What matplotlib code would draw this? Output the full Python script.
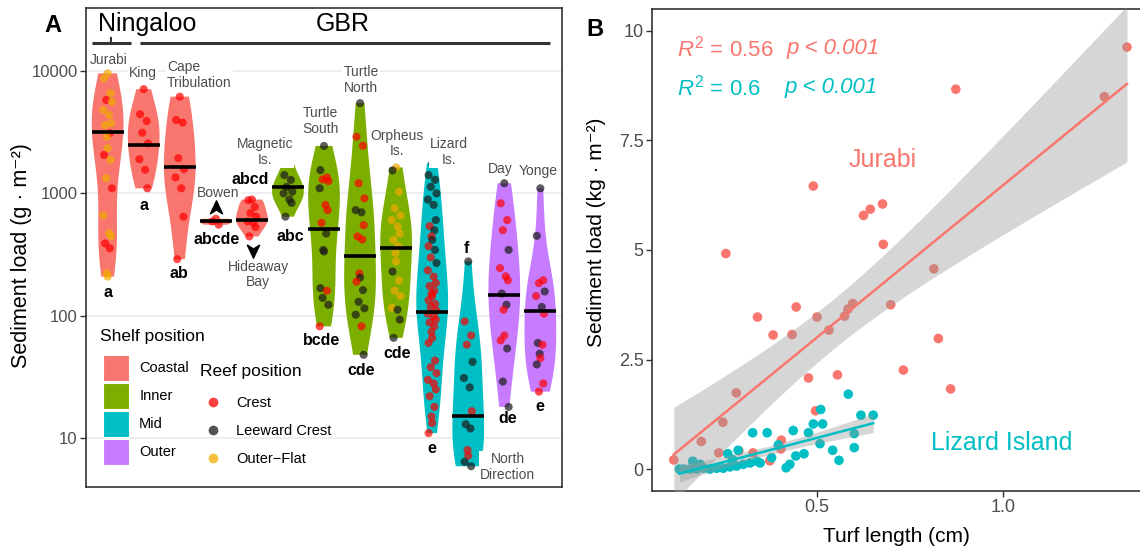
import numpy as np
import matplotlib
matplotlib.use("Agg")
import matplotlib.pyplot as plt
from matplotlib import cbook, mlab
from matplotlib.path import Path
from matplotlib.patches import Patch
from matplotlib.lines import Line2D
from matplotlib.ticker import FixedLocator, NullLocator, FixedFormatter

plt.rcParams['font.family'] = ['Liberation Sans', 'DejaVu Sans']
plt.rcParams['mathtext.fontset'] = 'custom'
plt.rcParams['mathtext.rm'] = 'Liberation Sans'
plt.rcParams['mathtext.it'] = 'Liberation Sans:italic'

# ---------------- panel A data ----------------
sites = ["Jurabi", "King", "Cape\nTribulation", "Bowen", "Hideaway\nBay", "Magnetic\nIs.",
         "Turtle\nSouth", "Turtle\nNorth", "Orpheus\nIs.", "Lizard\nIs.", "North\nDirection",
         "Day", "Yonge"]
shelf = ["Coastal"] * 5 + ["Inner"] * 4 + ["Mid"] * 2 + ["Outer"] * 2
letters = ["a", "a", "ab", "abcde", "abcd", "abc", "bcde", "cde", "cde", "e", "f", "de", "e"]
medians = [3150, 2490, 1630, 590, 605, 1130, 515, 308, 360, 107, 15.3, 148, 109]

# sediment load (g m-2) per site, reef position code: C crest, L leeward crest, O outer-flat
jurabi_load = [9570, 8700, 6580, 5790, 5610, 4800, 4370, 3740, 3620, 3100, 2900, 2340,
               2060, 1880, 1330, 1100, 660, 470, 445, 390, 356, 222, 209]
jurabi_reef = "OOOCOOOOOCOOCOOCOOOCCOO"
king_load = [7100, 4430, 3900, 3130, 2560, 1900, 1560, 1100]
king_reef = "CCCCCCCC"
cape_load = [6170, 3980, 3790, 1940, 1580, 1350, 1100, 645, 290]
cape_reef = "CCCCCCCCC"
bowen_load = [620, 590, 555]
bowen_reef = "CCC"
hideaway_load = [890, 880, 775, 690, 645, 590, 575, 530, 445]
hideaway_reef = "CCCCCCCCC"
magnetic_load = [1900, 1410, 1290, 1130, 1030, 1000, 890, 835, 645]
magnetic_reef = "LLLLLLLLL"
tsouth_load = [2440, 1550, 1350, 1300, 1260, 1100, 805, 730, 575, 470, 345, 335, 168,
               160, 140, 123, 82]
tsouth_reef = "LLCCCLCCCLLLLCLLC"
tnorth_load = [5460, 2900, 2450, 1210, 910, 730, 700, 550, 445, 420, 222, 205, 190, 162,
               130, 115, 102, 82, 48]
tnorth_reef = "LCCCCLLCCCCLCLLLLCL"
orpheus_load = [1630, 1540, 1030, 755, 660, 605, 535, 470, 417, 370, 325, 278, 230, 195,
                160, 145, 116, 112, 93, 66]
orpheus_reef = "OLOOOOOOOOOOLOOOOLLL"
lizard_load = [1760, 1410, 1290, 1130, 1000, 890, 805, 605, 540, 500, 445, 417, 370, 345,
               300, 270, 235, 209, 185, 175, 160, 152, 145, 134, 125, 118, 110, 104, 98,
               93, 88, 82, 74, 66, 60, 43, 38, 34, 30, 28, 25, 22, 18, 15, 13.3, 11]
lizard_reef = "LLLLLLLLCLCLCLCL" + "C" * 30
ndir_load = [278, 90, 69, 58, 42, 31, 26, 16.6, 13, 12, 8, 7.2, 6.4, 5.9]
ndir_reef = "LCCCLLLCLLCCLL"
day_load = [1210, 830, 605, 500, 345, 245, 210, 195, 152, 123, 112, 69, 63, 54, 29, 18]
day_reef = "LCCCLCCCLLCCCLLL"
yonge_load = [1100, 450, 195, 185, 158, 145, 118, 104, 60, 58, 49, 45, 40, 28, 24]
yonge_reef = "LLCCLCLCLCLCLCC"

site_loads = [jurabi_load, king_load, cape_load, bowen_load, hideaway_load, magnetic_load,
              tsouth_load, tnorth_load, orpheus_load, lizard_load, ndir_load, day_load,
              yonge_load]
site_reefs = [jurabi_reef, king_reef, cape_reef, bowen_reef, hideaway_reef, magnetic_reef,
              tsouth_reef, tnorth_reef, orpheus_reef, lizard_reef, ndir_reef, day_reef,
              yonge_reef]

# ---------------- panel B data ----------------
jur_turf = [1.333, 1.272, 0.873, 0.490, 0.676, 0.643, 0.625, 0.678, 0.255, 0.814, 0.444,
            0.340, 0.500, 0.574, 0.583, 0.596, 0.698, 0.532, 0.382, 0.433, 0.826, 0.732,
            0.555, 0.477, 0.859, 0.283, 0.496, 0.247, 0.189, 0.404, 0.236, 0.290, 0.328,
            0.403, 0.373, 0.115]
jur_sed = [9.63, 8.50, 8.67, 6.46, 6.05, 5.93, 5.79, 5.13, 4.92, 4.57, 3.70, 3.47, 3.47,
           3.49, 3.65, 3.78, 3.75, 3.17, 3.06, 3.07, 2.98, 2.26, 2.15, 2.08, 1.83, 1.74,
           1.33, 1.07, 0.63, 0.66, 0.37, 0.42, 0.37, 0.46, 0.19, 0.21]
liz_turf = [0.584, 0.510, 0.618, 0.651, 0.490, 0.515, 0.477, 0.436, 0.327, 0.366, 0.600,
            0.508, 0.600, 0.396, 0.288, 0.260, 0.542, 0.465, 0.443, 0.378, 0.559, 0.427,
            0.417, 0.338, 0.320, 0.302, 0.284, 0.266, 0.248, 0.230, 0.212, 0.195, 0.177,
            0.166, 0.159, 0.141, 0.130, 0.186, 0.347, 0.273]
liz_sed = [1.71, 1.36, 1.23, 1.23, 1.03, 1.03, 0.83, 0.88, 0.83, 0.83, 0.81, 0.58, 0.49,
           0.55, 0.43, 0.35, 0.43, 0.35, 0.30, 0.26, 0.20, 0.11, 0.03, 0.18, 0.14, 0.11,
           0.07, 0.05, 0.02, 0.02, 0.00, 0.02, 0.00, 0.18, 0.00, 0.00, 0.00, 0.11, 0.14,
           0.22]

shelf_colors = {"Coastal": "#F8766D", "Inner": "#7CAE00", "Mid": "#00BFC4", "Outer": "#C77CFF"}
reef_colors = {"C": "#FF0000", "L": "#1A1A1A", "O": "#F2AA00"}
reef_names = {"C": "Crest", "L": "Leeward Crest", "O": "Outer\u2212Flat"}
jitter = [0.0, -0.1, 0.08, -0.04, 0.12, -0.12, 0.04, 0.1, -0.07, 0.06, -0.02]
grey_txt = "#4D4D4D"

fig = plt.figure(figsize=(11.4, 5.49), dpi=100)
W, H = 1140, 549
axA = fig.add_axes([86 / W, (H - 487) / H, 476 / W, 479 / H])
axB = fig.add_axes([652 / W, (H - 491) / H, 488 / W, 482 / H])

# ---------------- panel A ----------------
axA.set_yscale("log")
axA.set_ylim(3.99, 32700)
axA.set_xlim(0.4, 13.6)
pos = np.arange(1, len(sites) + 1)


def kde(x, coords):
    return mlab.GaussianKDE(x, "scott").evaluate(coords)


stats = cbook.violin_stats([np.log10(v) for v in site_loads], kde, points=200)
for st in stats:
    for k in ("coords", "mean", "median", "min", "max"):
        st[k] = 10 ** np.asarray(st[k])
parts = axA.violin(stats, positions=pos, widths=0.88, showextrema=False)
for body, sh in zip(parts["bodies"], shelf):
    body.set_facecolor(shelf_colors[sh])
    body.set_edgecolor("none")
    body.set_alpha(1)
    body.set_zorder(2)

for p, vals, reefs in zip(pos, site_loads, site_reefs):
    xs = [p + jitter[i % len(jitter)] for i in range(len(vals))]
    cols = [reef_colors[r] for r in reefs]
    axA.scatter(xs, vals, s=34, c=cols, alpha=0.7, edgecolors="none", zorder=3)

axA.hlines(medians, pos - 0.44, pos + 0.44, colors="black", lw=2.6, zorder=4)

axA.yaxis.set_major_locator(FixedLocator([10, 100, 1000, 10000]))
axA.yaxis.set_minor_locator(NullLocator())
axA.yaxis.set_major_formatter(FixedFormatter(["10", "100", "1000", "10000"]))
axA.set_xticks([])
axA.yaxis.grid(True, color="#EBEBEB", lw=1.2)
axA.set_axisbelow(True)
axA.tick_params(axis="y", labelsize=12, labelcolor=grey_txt, color="#333333", length=4,
                width=1, pad=2)
for sp in axA.spines.values():
    sp.set_color("#333333")
    sp.set_linewidth(1.2)
axA.set_ylabel("Sediment load (g \u00b7 m\u207b\u00b2)", fontsize=15.5, va="center")
axA.yaxis.set_label_coords((22 - 86) / 476, 0.484)

# site labels
lab_x = [1.04, 1.98, 2.65, 4.06, 5.17, 5.36, 6.89, 8.03, 9.02, 10.47, 12.10, 11.88, 12.93]
lab_y = [12300, 9690, 9270, 1000, 217, 2180, 3900, 8440, 2560, 2180, 5.82, 1580, 1525]
for i, (name, x, y) in enumerate(zip(sites, lab_x, lab_y)):
    axA.text(x, y, name, ha="left" if i == 2 else "center", va="center", fontsize=10,
             color=grey_txt, linespacing=1.15, zorder=5,
             bbox=dict(facecolor="white", edgecolor="none", pad=1))

let_x = [1.0, 2.0, 2.98, 4.03, 4.95, 6.06, 6.94, 8.02, 9.02, 9.99, 10.94, 12.10, 12.99]
let_y = [155, 800, 222, 422, 1300, 448, 63, 36, 49, 8.3, 356, 14.5, 18]
for t, x, y in zip(letters, let_x, let_y):
    axA.text(x, y, t, ha="center", va="center", fontsize=11.5, fontweight="bold", zorder=5)

up = Path([(0, 1), (0.8, -0.7), (0, -0.2), (-0.8, -0.7), (0, 1)],
          [Path.MOVETO, Path.LINETO, Path.LINETO, Path.LINETO, Path.CLOSEPOLY])
down = Path([(0, -1), (0.8, 0.7), (0, 0.2), (-0.8, 0.7), (0, -1)],
            [Path.MOVETO, Path.LINETO, Path.LINETO, Path.LINETO, Path.CLOSEPOLY])
axA.plot([4.0], [760], marker=up, ms=11, color="black", ls="none", zorder=5)
axA.plot([5.03], [345], marker=down, ms=11, color="black", ls="none", zorder=5)

# region brackets
axA.plot([0.57, 1.65], [16900, 16900], color="#333333", lw=2.2, solid_capstyle="butt")
axA.plot([1.1, 1.1], [16900, 18700], color="#333333", lw=1.5)
axA.plot([1.90, 13.27], [16900, 16900], color="#333333", lw=2.2, solid_capstyle="butt")
axA.text(2.09, 24200, "Ningaloo", ha="center", va="center", fontsize=18)
axA.text(7.53, 24200, "GBR", ha="center", va="center", fontsize=18)

# legends (titles drawn as separate text for exact spacing)
shelf_handles = [Patch(facecolor=shelf_colors[k], edgecolor="white", lw=0.8, label=k)
                 for k in shelf_colors]
leg1 = axA.legend(handles=shelf_handles, loc="upper left",
                  bbox_to_anchor=(0.0357, 0.2756), frameon=False, fontsize=10.5,
                  handlelength=1.78, handleheight=2.36, labelspacing=0.14,
                  handletextpad=0.7, borderpad=0, borderaxespad=0)
axA.add_artist(leg1)
axA.text(0.0294, 0.315, "Shelf position", transform=axA.transAxes, fontsize=12.5,
         ha="left", va="center")
reef_handles = [Line2D([], [], marker="o", ls="none", ms=7, markerfacecolor=reef_colors[k],
                       markeredgecolor="none", alpha=0.75, label=reef_names[k])
                for k in reef_colors]
axA.legend(handles=reef_handles, loc="upper left",
           bbox_to_anchor=(0.2395, 0.19), frameon=False, fontsize=10.5,
           handlelength=1.78, labelspacing=0.965, handletextpad=0.7, borderpad=0,
           borderaxespad=0)
axA.text(0.2395, 0.242, "Reef position", transform=axA.transAxes, fontsize=12.5,
         ha="left", va="center")

# ---------------- panel B ----------------
axB.set_xlim(0.0565, 1.368)
axB.set_ylim(-0.5, 10.5)


def fit_band(x, y):
    x = np.asarray(x)
    y = np.asarray(y)
    b, a = np.polyfit(x, y, 1)
    n = len(x)
    s = np.sqrt(np.sum((y - (a + b * x)) ** 2) / (n - 2))
    xs = np.linspace(x.min(), x.max(), 100)
    se = s * np.sqrt(1 / n + (xs - x.mean()) ** 2 / np.sum((x - x.mean()) ** 2))
    yh = a + b * xs
    return xs, yh, yh - 2.03 * se, yh + 2.03 * se


axB.scatter(jur_turf, jur_sed, s=48, color="#F8766D", edgecolors="none", zorder=2)
axB.scatter(liz_turf, liz_sed, s=48, color="#00BFC4", edgecolors="none", zorder=2)
for xv, yv, col in ((jur_turf, jur_sed, "#F8766D"), (liz_turf, liz_sed, "#00BFC4")):
    xs, yh, lo, hi = fit_band(xv, yv)
    axB.fill_between(xs, lo, hi, color="#999999", alpha=0.4, lw=0, zorder=3)
    axB.plot(xs, yh, color=col, lw=1.8, zorder=4)

axB.set_xticks([0.5, 1.0], ["0.5", "1.0"])
axB.set_yticks([0, 2.5, 5, 7.5, 10], ["0", "2.5", "5", "7.5", "10"])
axB.tick_params(labelsize=13, labelcolor=grey_txt, color="#333333", length=4, width=1, pad=2)
for k, sp in axB.spines.items():
    sp.set_color("#333333")
    sp.set_linewidth(1.2)
axB.spines["right"].set_visible(False)
axB.set_ylabel("Sediment load (kg \u00b7 m\u207b\u00b2)", fontsize=15, va="center")
axB.yaxis.set_label_coords((596 - 652) / 488, 0.537)
axB.set_xlabel("Turf length (cm)", fontsize=15, va="center")
axB.xaxis.set_label_coords(0.5, (491 - 537) / 482)

axB.text(0.124, 9.6, r"$R^2$ = 0.56", color="#F8766D", fontsize=16, va="center")
axB.text(0.419, 9.6, "p < 0.001", color="#F8766D", fontsize=16, va="center", style="italic")
axB.text(0.124, 8.71, r"$R^2$ = 0.6", color="#00BFC4", fontsize=16, va="center")
axB.text(0.413, 8.71, "p < 0.001", color="#00BFC4", fontsize=16, va="center", style="italic")
axB.text(0.675, 7.05, "Jurabi", color="#F8766D", fontsize=18, ha="center", va="center")
axB.text(0.995, 0.59, "Lizard Island", color="#00BFC4", fontsize=18, ha="center", va="center")

fig.text(53 / W, 1 - 25 / H, "A", fontsize=17, fontweight="bold", ha="center", va="center")
fig.text(595 / W, 1 - 29 / H, "B", fontsize=17, fontweight="bold", ha="center", va="center")

fig.savefig("out.png", dpi=100)
